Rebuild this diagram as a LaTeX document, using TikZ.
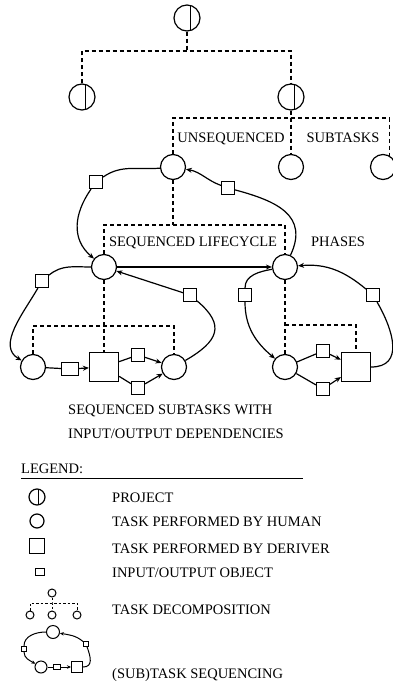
\documentclass[tikz,border=0pt]{standalone}
\usepackage{fontspec}
\setmainfont{Liberation Serif}
\usetikzlibrary{arrows.meta,positioning,calc}
\tikzset{
  task/.style={circle, draw=black, line width=1.2pt, minimum size=#1, inner sep=0pt},
  task/.default=25pt,
  proj/.style={task=#1, path picture={\draw[line width=1.1pt]
      ([xshift=0.12*#1]path picture bounding box.north) --
      ([xshift=0.12*#1]path picture bounding box.south);}},
  proj/.default=26pt,
  drv/.style={draw=black, line width=1.2pt, minimum size=#1, inner sep=0pt},
  drv/.default=29pt,
  iobox/.style={draw=black, line width=1.1pt, minimum width=#1, minimum height=#1, inner sep=0pt},
  iobox/.default=13pt,
  decomp/.style={line width=1.1pt, dash pattern=on 4pt off 3pt},
  link/.style={line width=1.2pt},
  flow/.style={link, -{Stealth[length=6pt,width=5pt]}},
  flowsm/.style={line width=1pt, -{Stealth[length=4pt,width=3.5pt]}},
  lbl/.style={font=\fontsize{14.5}{17}\selectfont, inner sep=0pt},
}

\begin{document}
\begin{tikzpicture}[x=1pt,y=1pt]
  \useasboundingbox (0,0) rectangle (392,-695);
  % project decomposition
  \node[proj] (p0) at (187,-18) {};
  \node[proj] (p1) at (82,-97) {};
  \node[proj] (p2) at (291,-97) {};
  \coordinate (j0) at (187,-51);
  \draw[decomp] (p0) -- (j0);
  \draw[decomp] (p1) |- (j0) -| (p2);

  \node[task] (t1) at (173,-167) {};
  \node[task] (t2) at (291,-167) {};
  \node[task] (t3) at (383,-167) {};
  \coordinate (j1) at (291,-118);
  \draw[decomp] (p2) -- (j1) -- (t2);
  \draw[decomp] (t1) |- (j1) -| (t3.60);
  \node[lbl, anchor=base] (unseq) at (231,-143) {UNSEQUENCED};
  \node[lbl, anchor=base] (subt) at (343,-143) {SUBTASKS};

  % lifecycle phases
  \node[task] (ph1) at (104,-267) {};
  \node[task] (ph2) at (285,-267) {};
  \coordinate (j2) at (173,-225);
  \draw[decomp] (t1) -- (j2);
  \draw[decomp] (ph1) |- (j2) -| (ph2);
  \node[lbl, anchor=base] (seql) at (193,-246) {SEQUENCED LIFECYCLE};
  \node[lbl, anchor=base] (phs) at (338,-246) {PHASES};
  \draw[flow] (ph1) -- (ph2);
  \node[iobox] (io1) at (96,-182) {};
  \node[iobox] (io2) at (228,-188) {};
  \draw[link] (t1) to[out=185,in=35] (io1);
  \draw[flow] (io1) to[out=235,in=140,looseness=1.1] (ph1);
  \draw[link] (ph2) to[out=65,in=-15,looseness=1.3] (io2);
  \draw[flow] (io2) to[out=160,in=-10] (t1);

  % subtasks of first phase
  \node[task] (a1) at (33,-367) {};
  \node[drv] (d1) at (104,-367) {};
  \node[task] (b1) at (174,-367) {};
  \coordinate (j3) at (104,-326);
  \draw[decomp] (ph1) -- (j3) -- (d1);
  \draw[decomp] (a1) |- (j3) -| (b1);
  \node[iobox, minimum width=17pt, minimum height=13pt] (io3) at (70,-369) {};
  \node[iobox] (io4) at (138,-355) {};
  \node[iobox] (io5) at (138,-388) {};
  \draw[link] (a1) -- (io3);
  \draw[flow] (io3) -- (d1);
  \draw[link] (d1) -- (io4);
  \draw[flow] (io4) -- (b1);
  \draw[link] (d1) -- (io5);
  \draw[flow] (io5) -- (b1);
  \node[iobox] (io6) at (42,-281) {};
  \node[iobox] (io7) at (190,-295) {};
  \draw[link] (ph1) to[out=180,in=40] (io6);
  \draw[flow] (io6) to[out=240,in=150] (a1);
  \draw[link] (b1) to[out=30,in=-40,looseness=1.6] (io7);
  \draw[flow] (io7) -- (ph1);

  % subtasks of second phase
  \node[task] (c1) at (285,-367) {};
  \node[drv] (d2) at (356,-367) {};
  \coordinate (j4) at (285,-325);
  \draw[decomp] (ph2) -- (c1);
  \draw[decomp] (j4) -| (d2);
  \node[iobox] (io8) at (323,-351) {};
  \node[iobox] (io9) at (323,-389) {};
  \draw[link] (c1) -- (io8);
  \draw[flow] (io8) -- (d2);
  \draw[link] (c1) -- (io9);
  \draw[flow] (io9) -- (d2);
  \node[iobox] (io10) at (245,-295) {};
  \node[iobox] (io11) at (373,-295) {};
  \draw[link] (ph2) to[out=190,in=90] (io10);
  \draw[flow] (io10) to[out=270,in=140] (c1);
  \draw[link] (d2) to[out=0,in=-60,looseness=1.3] (io11);
  \draw[flow] (io11) to[out=140,in=5] (ph2);

  \node[lbl, anchor=base west] (cap1) at (68,-414) {SEQUENCED SUBTASKS WITH};
  \node[lbl, anchor=base west] (cap2) at (68,-438) {INPUT/OUTPUT DEPENDENCIES};

  % legend
  \node[lbl, anchor=base west] (lg) at (21,-473) {LEGEND:};
  \draw[line width=0.9pt] (21,-478) -- (303,-478);
  \node[proj=16pt] (k1) at (37,-497) {};
  \node[task=14pt] (k2) at (37,-521) {};
  \node[drv=15pt] (k3) at (37,-546) {};
  \node[iobox, minimum width=9pt, minimum height=7pt] (k4) at (40,-572) {};
  \node[lbl, anchor=base west] (kt1) at (112,-502) {PROJECT};
  \node[lbl, anchor=base west] (kt2) at (112,-526) {TASK PERFORMED BY HUMAN};
  \node[lbl, anchor=base west] (kt3) at (112,-553) {TASK PERFORMED BY DERIVER};
  \node[lbl, anchor=base west] (kt4) at (112,-577) {INPUT/OUTPUT OBJECT};
  \node[lbl, anchor=base west] (kt5) at (112,-614) {TASK DECOMPOSITION};
  \node[lbl, anchor=base west] (kt6) at (112,-678) {(SUB)TASK SEQUENCING};

  \node[task=8pt, line width=1pt] (m0) at (52,-593) {};
  \foreach \n/\x in {1/30, 2/52, 3/77}
    \node[task=8pt, line width=1pt] (m\n) at (\x,-615) {};
  \coordinate (j5) at (52,-603);
  \draw[decomp, line width=0.9pt, dash pattern=on 2.5pt off 2pt] (m0) -- (j5) -- (m2);
  \draw[decomp, line width=0.9pt, dash pattern=on 2.5pt off 2pt] (m1) |- (j5) -| (m3);

  \node[task=13pt, line width=1pt] (q1) at (53,-632) {};
  \node[task=12pt, line width=1pt] (q2) at (41,-667) {};
  \node[iobox, line width=0.9pt, minimum width=7pt, minimum height=5pt] (q3) at (57,-667) {};
  \node[drv=11pt, line width=1pt] (q4) at (77,-667) {};
  \node[iobox=5pt, line width=0.9pt] (q5) at (24,-649) {};
  \node[iobox=5pt, line width=0.9pt] (q6) at (86,-644) {};
  \draw[line width=1pt] (q1) to[out=180,in=90] (q5);
  \draw[flowsm] (q5) to[out=270,in=150] (q2);
  \draw[line width=1pt] (q2) -- (q3);
  \draw[flowsm] (q3) -- (q4);
  \draw[line width=1pt] (q4) to[out=0,in=-70,looseness=1.3] (q6);
  \draw[flowsm] (q6) to[out=140,in=-10] (q1);
\end{tikzpicture}
\end{document}
